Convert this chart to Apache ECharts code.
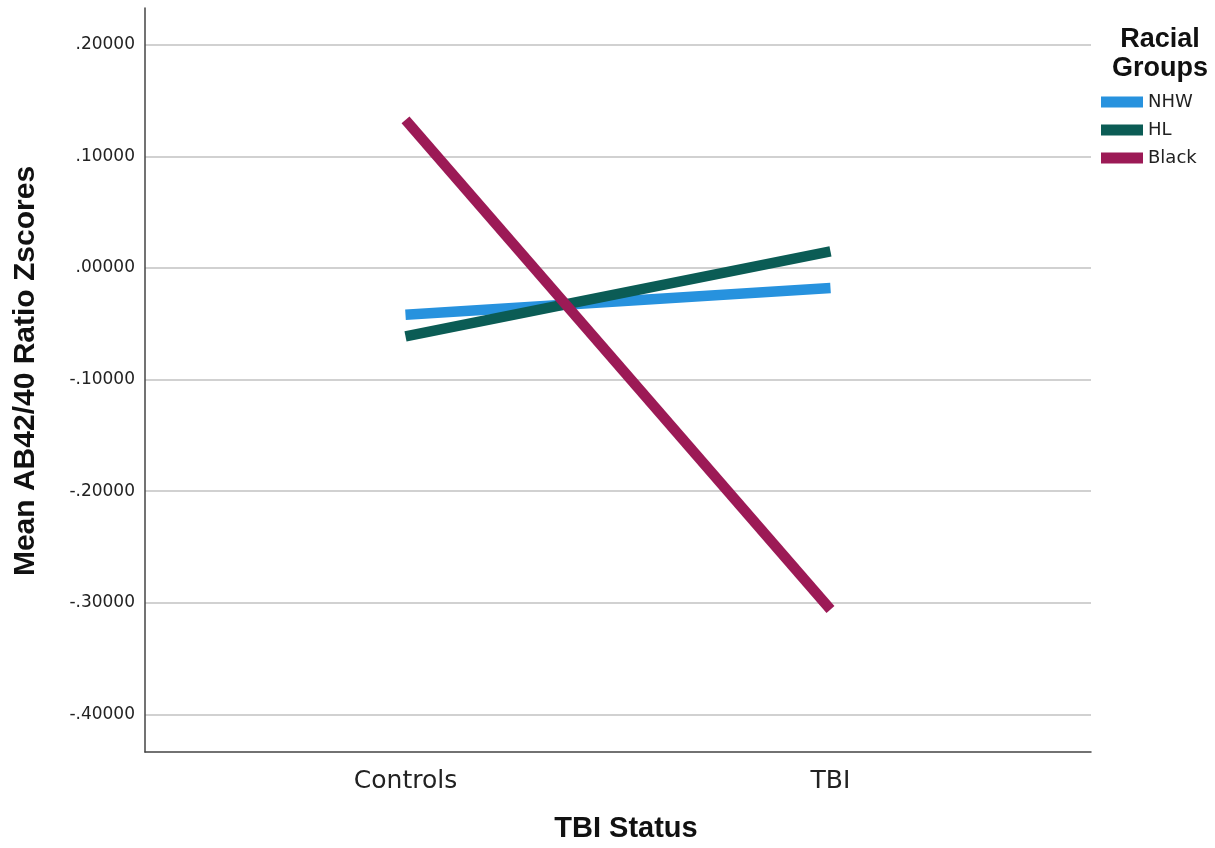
<!DOCTYPE html>
<html>
<head>
<meta charset="utf-8">
<script src="https://cdn.jsdelivr.net/npm/echarts@6/dist/echarts.min.js"></script>
<style>
html,body{margin:0;padding:0;background:#fff;}
#chart{width:1215px;height:848px;}
</style>
</head>
<body>
<div id="chart"></div>
<script>
const categories = ["Controls", "TBI"];
const yTicks = [-0.4, -0.3, -0.2, -0.1, 0, 0.1, 0.2];
const seriesNames = ["NHW", "HL", "Black"];
const nhwValues = [-0.0418, -0.0179];
const hlValues = [-0.0612, 0.0149];
const blackValues = [0.1328, -0.306];
const colors = ["#2792de", "#0b5c55", "#9c1a56"];

const font = "'Liberation Sans', Arial, sans-serif";
const font2 = "'DejaVu Sans', sans-serif";
const toPts = vals => vals.map((v, i) => [i, v]);
const fmt = v => Number(v).toFixed(5).replace("0.", ".");

const chart = echarts.init(document.getElementById('chart'));
const allVals = [nhwValues, hlValues, blackValues];
chart.setOption({
  backgroundColor: '#ffffff',
  animation: false,
  grid: { left: 145, right: 124, top: 8, bottom: 92, containLabel: false },
  title: {
    text: 'Racial\nGroups',
    left: 1155, top: 20, textAlign: 'center',
    textStyle: { fontFamily: font, fontWeight: 'bold', fontSize: 27, lineHeight: 29, color: '#111' }
  },
  legend: {
    orient: 'vertical',
    left: 1096, top: 88,
    icon: 'rect',
    itemWidth: 42, itemHeight: 11, itemGap: 10,
    textStyle: { fontFamily: font2, fontSize: 18, color: '#222' },
    data: seriesNames
  },
  xAxis: {
    type: 'value',
    min: -0.613, max: 1.613,
    name: 'TBI Status', nameLocation: 'middle', nameGap: 62,
    nameTextStyle: { fontFamily: font, fontWeight: 'bold', fontSize: 29, color: '#111', padding: [0, 0, 0, 16] },
    axisLine: { show: true, onZero: false, lineStyle: { color: '#444', width: 1.5 } },
    axisTick: { show: false },
    splitLine: { show: false },
    axisLabel: {
      customValues: [0, 1],
      formatter: v => categories[Math.round(v)] || '',
      fontFamily: font2, fontSize: 25, color: '#222', margin: 17
    }
  },
  yAxis: {
    type: 'value',
    min: -0.4337, max: 0.233,
    name: 'Mean AB42/40 Ratio Zscores', nameLocation: 'middle', nameGap: 104,
    nameTextStyle: { fontFamily: font, fontWeight: 'bold', fontSize: 30, color: '#111', padding: [0, 0, 0, 18] },
    axisLine: { show: true, onZero: false, lineStyle: { color: '#444', width: 1.5 } },
    axisTick: { show: false, customValues: yTicks },
    splitLine: { show: true, lineStyle: { color: '#c2c2c2', width: 1.5 } },
    axisLabel: {
      customValues: yTicks,
      formatter: fmt,
      fontFamily: font2, fontSize: 17, color: '#222', margin: 10
    }
  },
  series: seriesNames.map((n, k) => ({
    name: n,
    type: 'line',
    data: toPts(allVals[k]),
    showSymbol: false,
    symbol: 'none',
    color: colors[k],
    lineStyle: { width: 10.5, color: colors[k], cap: 'butt' },
    z: 3 + k
  }))
});
</script>
</body>
</html>
